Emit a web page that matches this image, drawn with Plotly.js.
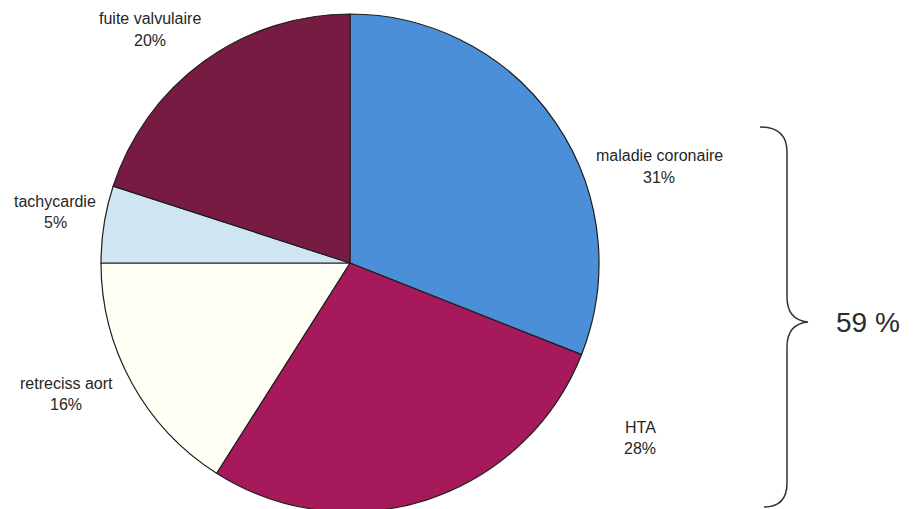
<!DOCTYPE html>
<html>
<head>
<meta charset="utf-8">
<script src="https://cdn.plot.ly/plotly-3.0.1.min.js"></script>
<style>
html, body { margin: 0; padding: 0; overflow: hidden; background: #ffffff; }
#chart { width: 914px; height: 530px; }
</style>
</head>
<body>
<div id="chart"></div>
<script>
// Data
var categories = ["maladie coronaire", "HTA", "retreciss aort", "tachycardie", "fuite valvulaire"];
var percents = [31, 28, 16, 5, 20];
var sliceColors = ["#4a8fd8", "#a6195a", "#fffff6", "#cfe6f2", "#781b43"];
var groupLabel = "59 %";

// Layout helpers (pixel -> paper)
var W = 914, H = 530;
function px(x) { return x / W; }
function py(y) { return 1 - y / H; }

// label positions (pixel centers of label line and percent line)
var labelPos = [
  [659, 156, 177],
  [640, 427, 448],
  [66, 383, 404],
  [55, 201, 222],
  [150, 19, 41]
];

var annotations = [];
categories.forEach(function (c, i) {
  var p = labelPos[i];
  annotations.push({ xref: "paper", yref: "paper", x: px(p[0]), y: py(p[1]), text: c,
    showarrow: false, xanchor: "center", yanchor: "middle",
    font: { family: "Liberation Sans, Arial, sans-serif", size: 16, color: "#262626" } });
  annotations.push({ xref: "paper", yref: "paper", x: px(p[0]), y: py(p[2]), text: percents[i] + "%",
    showarrow: false, xanchor: "center", yanchor: "middle",
    font: { family: "Liberation Sans, Arial, sans-serif", size: 16, color: "#262626" } });
});
annotations.push({ xref: "paper", yref: "paper", x: px(868), y: py(322), text: groupLabel,
  showarrow: false, xanchor: "center", yanchor: "middle",
  font: { family: "Liberation Sans, Arial, sans-serif", size: 28, color: "#2b2b2b" } });

// brace path in pixel coords, converted to paper
var bracePx = [
  ["M", 760, 127], ["Q", 787, 127, 787, 152], ["L", 787, 297],
  ["Q", 787, 320, 808, 322], ["Q", 787, 324, 787, 347],
  ["L", 787, 483], ["Q", 787, 507, 764, 507]
];
var bracePath = bracePx.map(function (s) {
  var out = s[0];
  for (var k = 1; k < s.length; k += 2) {
    out += " " + px(s[k]).toFixed(5) + "," + py(s[k + 1]).toFixed(5);
  }
  return out;
}).join(" ");

var trace = {
  type: "pie",
  labels: categories,
  values: percents,
  sort: false,
  direction: "clockwise",
  rotation: 0,
  textinfo: "none",
  hoverinfo: "label+percent",
  marker: { colors: sliceColors, line: { color: "#1e1e1e", width: 1.2 } },
  domain: { x: [px(101), px(599)], y: [py(512), py(14)] }
};

var layout = {
  width: W, height: H,
  margin: { l: 0, r: 0, t: 0, b: 0 },
  paper_bgcolor: "#ffffff",
  showlegend: false,
  annotations: annotations,
  shapes: [{ type: "path", xref: "paper", yref: "paper", path: bracePath,
    line: { color: "#333333", width: 1.5 } }]
};

Plotly.newPlot("chart", [trace], layout, { displayModeBar: false, staticPlot: true });
</script>
</body>
</html>
